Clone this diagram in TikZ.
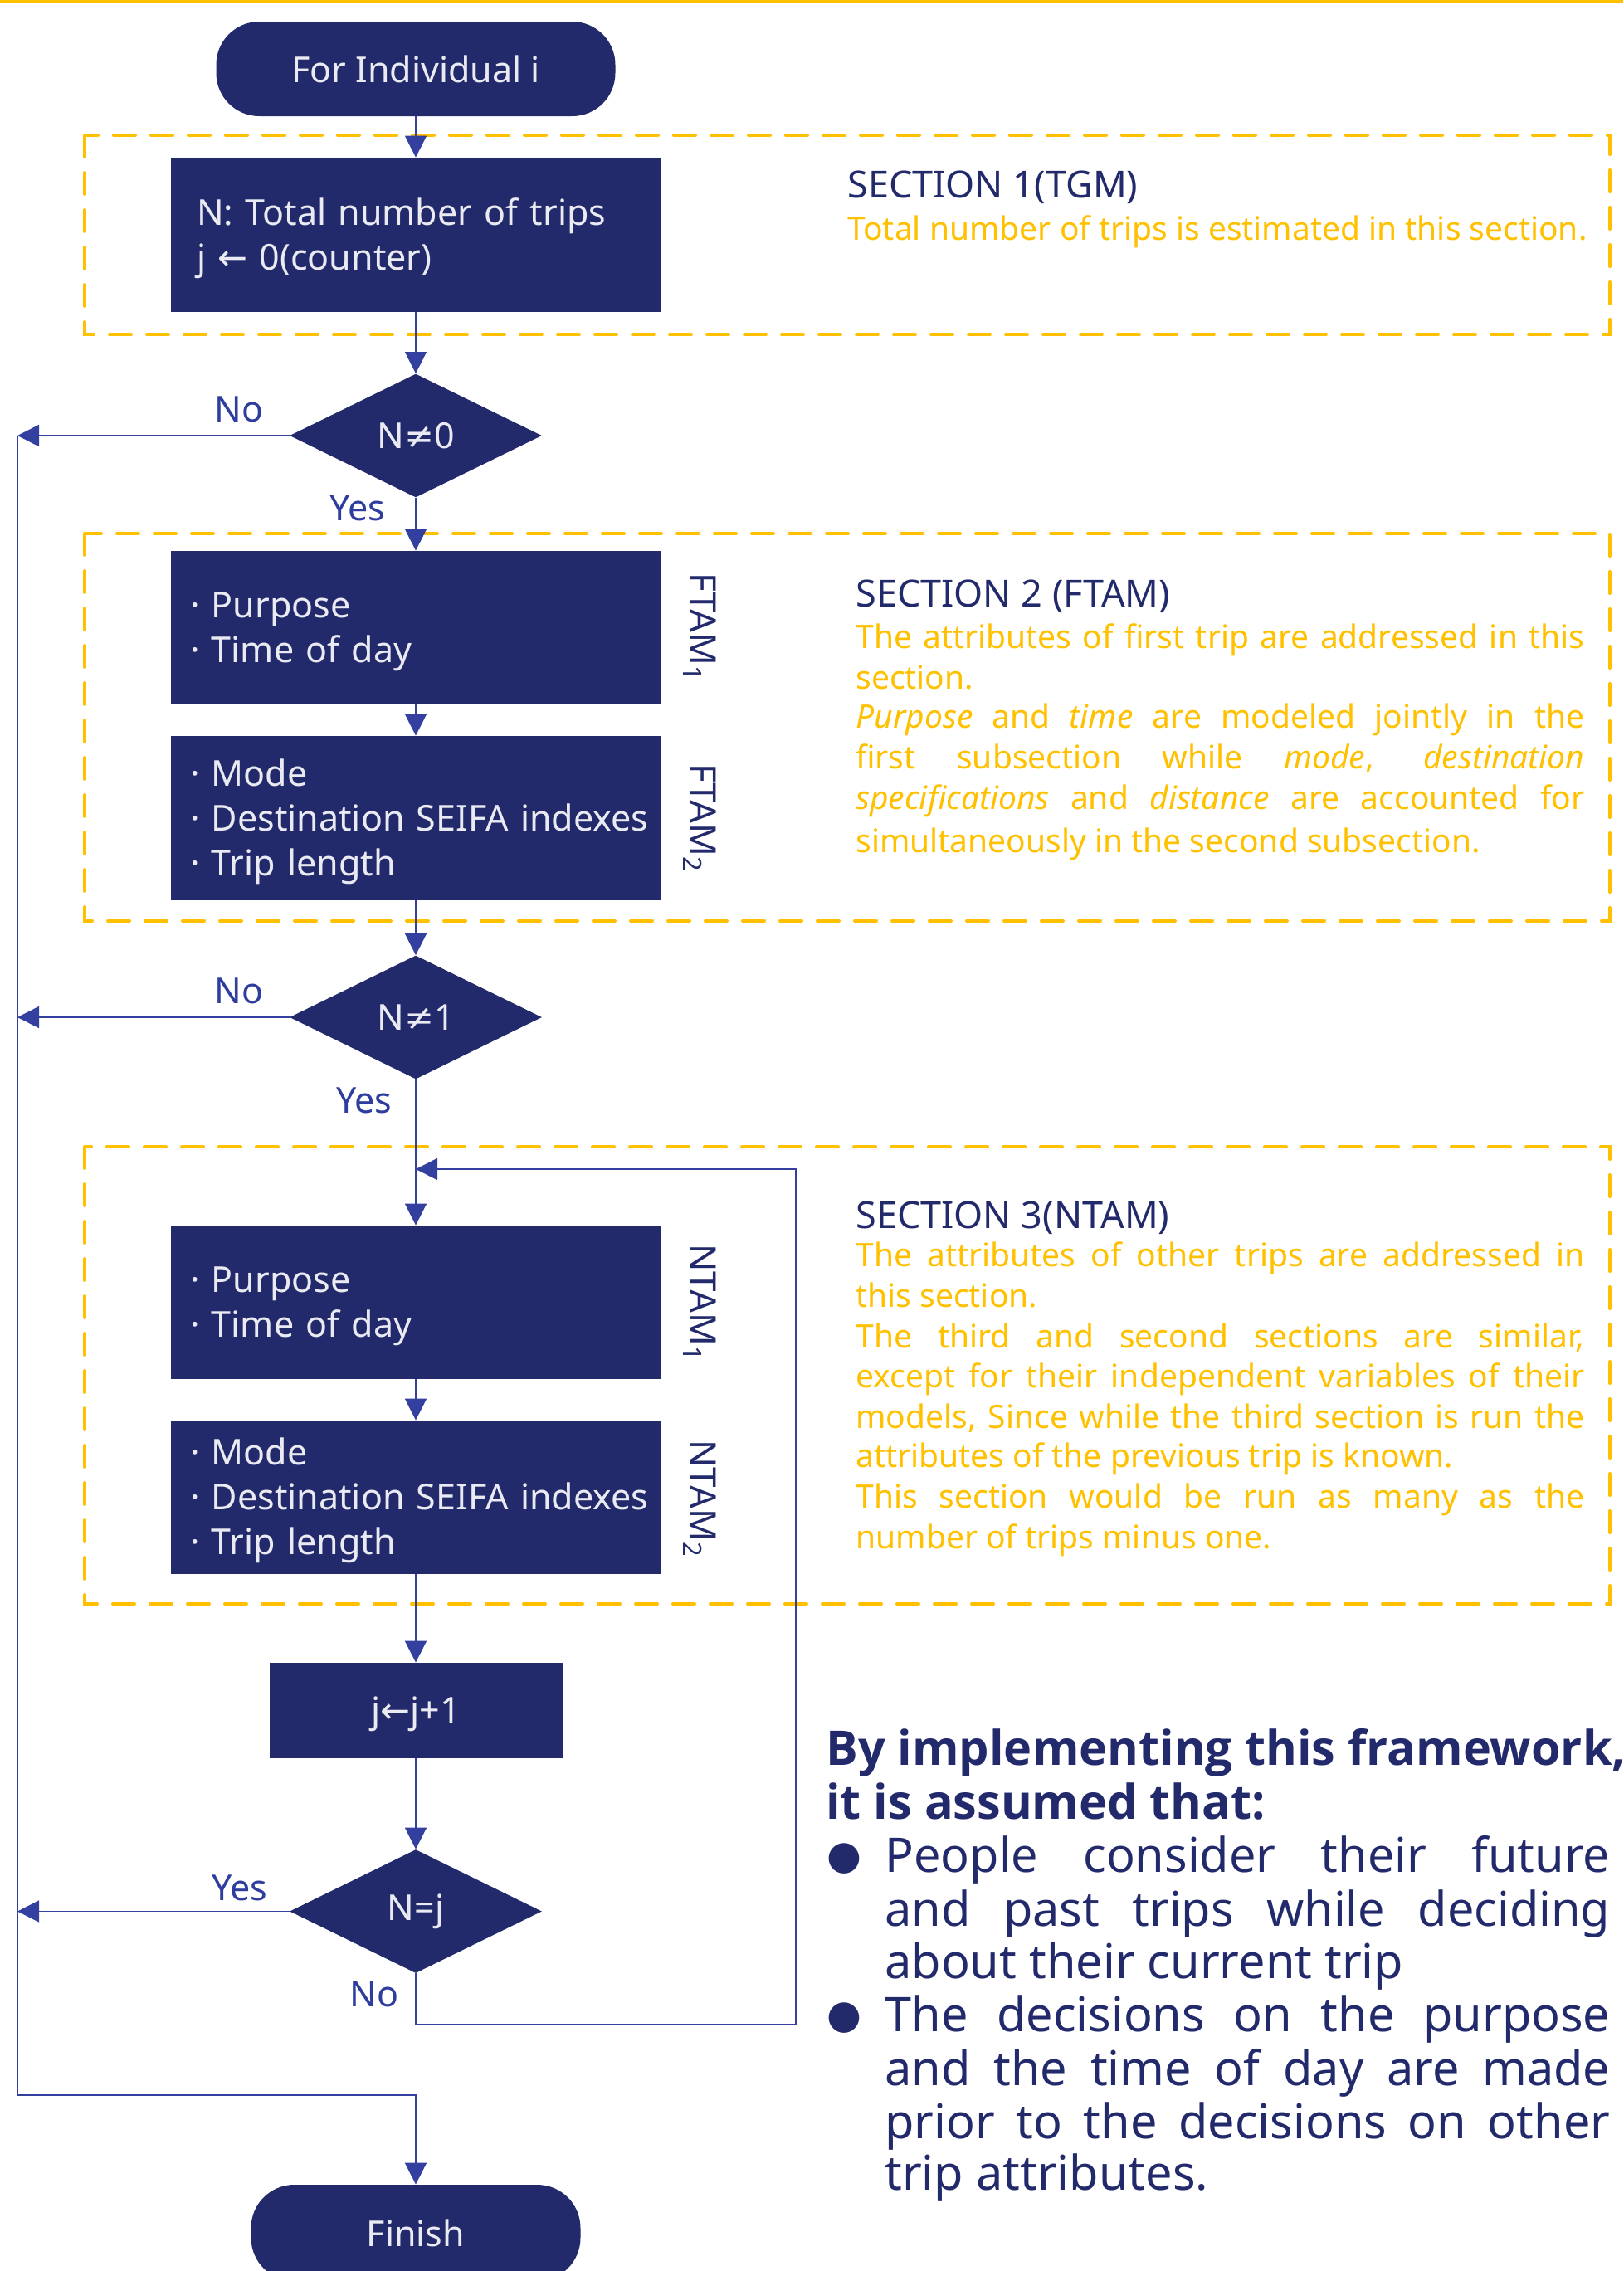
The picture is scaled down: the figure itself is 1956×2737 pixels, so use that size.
\documentclass[tikz,border=0pt]{standalone}
\usepackage{fontspec}
\setmainfont{Noto Sans}
\newfontfamily\symfont{DejaVu Sans}
\IfFontExistsTF{Open Sans Bold}{\newfontfamily\headfont{Open Sans Bold}}{\newfontfamily\headfont{Noto Sans}[FakeBold=2]}
\usetikzlibrary{shapes.geometric,arrows.meta}
\definecolor{navy}{RGB}{34,42,107}
\definecolor{arrowblue}{RGB}{52,64,160}
\definecolor{gold}{RGB}{255,192,0}
\definecolor{boxtext}{RGB}{234,234,242}
\definecolor{lblue}{RGB}{47,62,158}
\newcommand\fs[2]{\fontsize{#1}{#2}\selectfont}
\newcommand\jsec[1]{\makebox[439pt][s]{#1}}
\newcommand\jbul[1]{\makebox[437pt][s]{#1}}
\newcommand\bitem{\hspace*{11.5pt}·\ }
\newcommand\topstrut{\rule{0pt}{20.5pt}}
\begin{document}
\begin{tikzpicture}[x=0.5pt,y=-0.5pt,
  proc/.style={fill=navy, text=boxtext, inner sep=0pt, font=\fs{21.5pt}{27pt}},
  term/.style={proc, rounded corners=26pt, minimum width=240.5pt, minimum height=57pt},
  box/.style={proc, minimum width=295pt, text width=295pt, align=left, inner xsep=0pt},
  dec/.style={proc, diamond, minimum width=152pt, minimum height=74.5pt},
  arr/.style={draw=arrowblue, line width=0.8pt, -{Triangle[length=13pt,width=13pt]}},
  secbox/.style={draw=gold, line width=2pt, dash pattern=on 13pt off 9.5pt, line cap=round},
  lbl/.style={text=lblue, font=\fs{21.5pt}{26pt}, inner sep=0pt},
  tag/.style={text=navy, font=\fs{22pt}{26pt}, rotate=-90, inner sep=0pt},
  sectitle/.style={text=navy, font=\fs{22.5pt}{27pt}, anchor=mid west, inner sep=0pt},
  sectext/.style={text=gold, font=\fs{19.5pt}{24pt}, anchor=mid west, inner sep=0pt},
  bigtext/.style={text=navy, font=\fs{28.8pt}{32pt}, anchor=mid west, inner sep=0pt},
  headtext/.style={text=navy, font=\headfont\fs{28.8pt}{32pt}, anchor=mid west, inner sep=0pt},
  bul/.style={text=navy, font=\symfont\fs{24pt}{30pt}, inner sep=0pt}
]
\useasboundingbox (0,0) rectangle (1956,2737);
\fill[gold] (0,0) rectangle (1956,3.5);

% dashed section frames
\draw[secbox] (102,163) rectangle (1940,403);
\draw[secbox] (102,643) rectangle (1940,1110);
\draw[secbox] (102,1382) rectangle (1940,1933);

% flow nodes
\node[term] (start) at (501,83) {For Individual i};
\node[box, minimum height=93pt] (b1) at (501,283)
  {\topstrut\hspace*{15.5pt}N: Total number of trips\\ \hspace*{15.5pt}j {\symfont←} 0(counter)};
\node[dec] (d0) at (501,525) {N{\symfont≠}0};
\node[box, minimum height=92.5pt] (f1) at (501,756.5) {\topstrut\bitem Purpose\\ \bitem Time of day};
\node[box, minimum height=99pt] (f2) at (501,986) {\topstrut\bitem Mode\\ \bitem Destination SEIFA indexes\\ \bitem Trip length};
\node[dec] (d1) at (501,1226) {N{\symfont≠}1};
\node[box, minimum height=92.5pt] (n1) at (501,1569.5) {\topstrut\bitem Purpose\\ \bitem Time of day};
\node[box, minimum height=92.5pt] (n2) at (501,1804.5) {\topstrut\bitem Mode\\ \bitem Destination SEIFA indexes\\ \bitem Trip length};
\node[proc, minimum width=176.5pt, minimum height=57.5pt, text depth=1pt] (jb) at (501,2061.5) {j{\symfont←}j+1};
\node[dec] (dj) at (501,2303.5) {N=j};
\node[term, minimum width=198.5pt, minimum height=58pt] (fin) at (501,2691) {Finish};

% rotated tags
\node[tag] (t1) at (843,756) {FTAM\textsubscript{1}};
\node[tag] (t2) at (843,986) {FTAM\textsubscript{2}};
\node[tag] (t3) at (843,1570) {NTAM\textsubscript{1}};
\node[tag] (t4) at (843,1806) {NTAM\textsubscript{2}};

% branch labels
\node[lbl] (no0) at (288,493) {No};
\node[lbl] (yes0) at (431,612) {Yes};
\node[lbl] (no1) at (288,1194) {No};
\node[lbl] (yes1) at (439,1326) {Yes};
\node[lbl] (yesj) at (289,2275) {Yes};
\node[lbl] (noj) at (451,2403) {No};

% helper coordinates
\coordinate (L0) at (21,525);
\coordinate (L1) at (21,1226);
\coordinate (L2) at (21,2303.5);
\coordinate (L3) at (21,2525);
\coordinate (J) at (501,1409);
\coordinate (R1) at (959,1409);
\coordinate (R2) at (959,2440);

% connectors
\draw[arr] (start) -- (b1);
\draw[arr] (b1) -- (d0);
\draw[arr] (d0) -- (f1);
\draw[arr] (f1) -- (f2);
\draw[arr] (f2) -- (d1);
\draw[arr] (d1) -- (n1);
\draw[arr] (n1) -- (n2);
\draw[arr] (n2) -- (jb);
\draw[arr] (jb) -- (dj);
\draw[arr] (d0.west) -- (L0);
\draw[arr] (d1.west) -- (L1);
\draw[arr] (dj.west) -- (L2);
\draw[arr] (L0) -- (L3) -| (fin.north);
\draw[arr] (dj.south) |- (R2) -- (R1) -- (J);

% section 1 text
\node[sectitle] (s1t) at (1021,233) {SECTION 1(TGM)};
\node[sectext] (s1a) at (1021,284) {Total number of trips is estimated in this section.};

% section 2 text
\node[sectitle] (s2t) at (1031,726) {SECTION 2 (FTAM)};
\node[sectext] (s2a) at (1031,776) {\jsec{The attributes of first trip are addressed in this}};
\node[sectext] (s2b) at (1031,825) {section.};
\node[sectext] (s2c) at (1031,872) {\jsec{\textit{Purpose} and \textit{time} are modeled jointly in the}};
\node[sectext] (s2d) at (1031,921) {\jsec{first subsection while \textit{mode}, \textit{destination}}};
\node[sectext] (s2e) at (1031,970) {\jsec{\textit{specifications} and \textit{distance} are accounted for}};
\node[sectext] (s2f) at (1031,1022) {simultaneously in the second subsection.};

% section 3 text
\node[sectitle] (s3t) at (1031,1475) {SECTION 3(NTAM)};
\node[sectext] (s3a) at (1031,1521) {\jsec{The attributes of other trips are addressed in}};
\node[sectext] (s3b) at (1031,1570) {this section.};
\node[sectext] (s3c) at (1031,1619) {\jsec{The third and second sections are similar,}};
\node[sectext] (s3d) at (1031,1667) {\jsec{except for their independent variables of their}};
\node[sectext] (s3e) at (1031,1716) {\jsec{models, Since while the third section is run the}};
\node[sectext] (s3f) at (1031,1763) {attributes of the previous trip is known.};
\node[sectext] (s3g) at (1031,1812) {\jsec{This section would be run as many as the}};
\node[sectext] (s3h) at (1031,1861) {number of trips minus one.};

% assumptions
\node[headtext] (h1) at (995,2122) {By implementing this framework,};
\node[headtext] (h2) at (995,2187) {it is assumed that:};
\node[bul] (bu1) at (1017,2240) {●};
\node[bigtext] (p1) at (1066,2251) {\jbul{People consider their future}};
\node[bigtext] (p2) at (1066,2316) {\jbul{and past trips while deciding}};
\node[bigtext] (p3) at (1066,2379) {about their current trip};
\node[bul] (bu2) at (1017,2432) {●};
\node[bigtext] (q1) at (1066,2443) {\jbul{The decisions on the purpose}};
\node[bigtext] (q2) at (1066,2508) {\jbul{and the time of day are made}};
\node[bigtext] (q3) at (1066,2572) {\jbul{prior to the decisions on other}};
\node[bigtext] (q4) at (1066,2634) {trip attributes.};
\end{tikzpicture}
\end{document}
